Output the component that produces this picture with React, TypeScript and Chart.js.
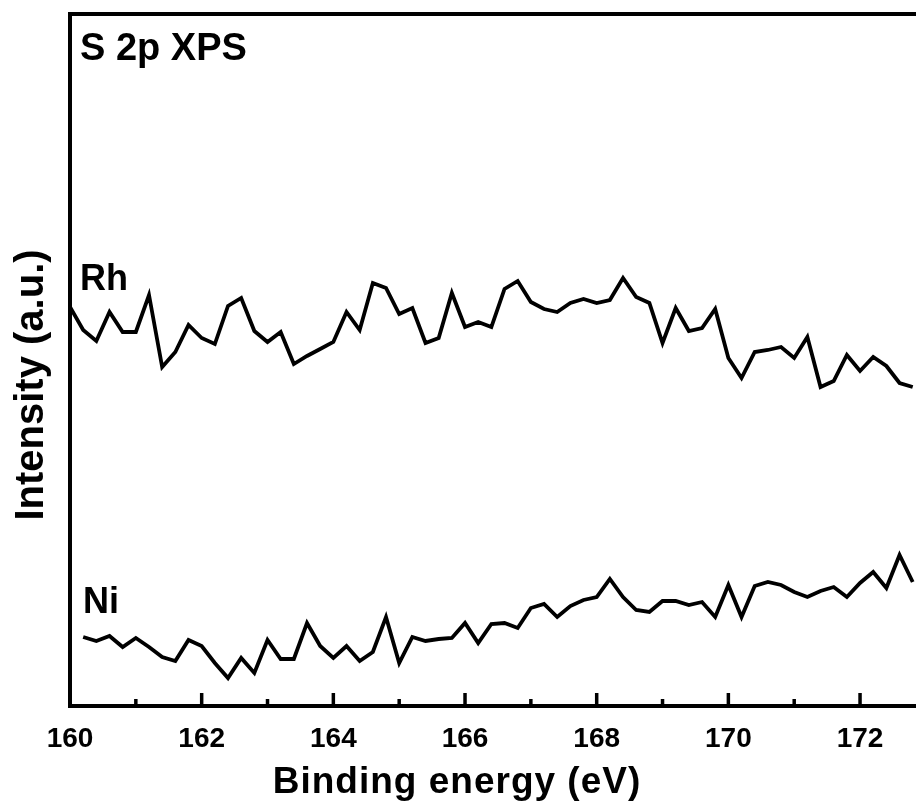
import React, { useEffect, useRef } from "react";
import { Chart, registerables } from "chart.js";

Chart.register(...registerables);

// Binding energy (eV), 0.2 eV steps
const energies = [
  160.0, 160.2, 160.4, 160.6, 160.8, 161.0, 161.2, 161.4, 161.6, 161.8,
  162.0, 162.2, 162.4, 162.6, 162.8, 163.0, 163.2, 163.4, 163.6, 163.8,
  164.0, 164.2, 164.4, 164.6, 164.8, 165.0, 165.2, 165.4, 165.6, 165.8,
  166.0, 166.2, 166.4, 166.6, 166.8, 167.0, 167.2, 167.4, 167.6, 167.8,
  168.0, 168.2, 168.4, 168.6, 168.8, 169.0, 169.2, 169.4, 169.6, 169.8,
  170.0, 170.2, 170.4, 170.6, 170.8, 171.0, 171.2, 171.4, 171.6, 171.8,
  172.0, 172.2, 172.4, 172.6, 172.8,
];

// Intensity (a.u.), Rh sample
const rhIntensity = [
  399, 376, 365, 394, 374, 374, 411, 339, 354, 381,
  368, 362, 400, 408, 375, 364, 374, 342, 350, 357,
  364, 394, 376, 423, 418, 392, 398, 363, 368, 413,
  379, 384, 379, 417, 425, 404, 397, 394, 403, 407,
  403, 406, 428, 409, 403, 363, 398, 375, 378, 397,
  348, 328, 354, 356, 359, 348, 369, 319, 325, 351,
  335, 349, 340, 323, 319,
];

// Intensity (a.u.), Ni sample (starts at 160.2 eV)
const niIntensity: (number | null)[] = [
  null, 69, 65, 70, 59, 68, 59, 49, 45, 66,
  60, 43, 28, 48, 33, 66, 47, 47, 83, 60,
  48, 60, 45, 54, 89, 43, 69, 65, 67, 68,
  83, 63, 82, 83, 78, 98, 102, 89, 100, 106,
  109, 127, 109, 96, 94, 105, 105, 101, 104, 89,
  121, 89, 120, 124, 121, 114, 109, 115, 119, 109,
  123, 134, 118, 151, 124,
];

const xMajorTicks = [160, 162, 164, 166, 168, 170, 172];
const xMinorTicks = [161, 163, 165, 167, 169, 171];
const xMin = 160;
const xMax = 172.85;
const yMin = 0;
const yMax = 692;

const FONT = "'Liberation Sans', Arial, Helvetica, sans-serif";

const decorPlugin = {
  id: "decor",
  afterDraw(chart: any) {
    const { ctx, chartArea, scales } = chart;
    const xs = scales.x;
    ctx.save();
    ctx.strokeStyle = "#000";
    ctx.lineCap = "butt";
    // top frame line
    ctx.lineWidth = 4;
    ctx.beginPath();
    ctx.moveTo(chartArea.left - 2, chartArea.top);
    ctx.lineTo(chartArea.right + 2, chartArea.top);
    ctx.stroke();
    // inward ticks
    ctx.lineWidth = 3.5;
    const bottom = chartArea.bottom;
    const drawTick = (v: number, len: number) => {
      const px = xs.getPixelForValue(v);
      ctx.beginPath();
      ctx.moveTo(px, bottom);
      ctx.lineTo(px, bottom - len);
      ctx.stroke();
    };
    xMajorTicks.forEach((v) => drawTick(v, 13));
    xMinorTicks.forEach((v) => drawTick(v, 7));

    // texts
    ctx.fillStyle = "#000";
    ctx.textBaseline = "alphabetic";
    ctx.textAlign = "left";
    ctx.font = `bold 38px ${FONT}`;
    ctx.fillText("S 2p XPS", chartArea.left + 10, chartArea.top + 46);
    ctx.font = `bold 36px ${FONT}`;
    ctx.fillText("Rh", chartArea.left + 10, 290);
    ctx.fillText("Ni", chartArea.left + 13, 613);

    // x title
    ctx.font = `bold 37px ${FONT}`;
    (ctx as any).letterSpacing = "1px";
    ctx.textAlign = "center";
    ctx.fillText("Binding energy (eV)", 457, 793);
    (ctx as any).letterSpacing = "0px";

    // y title
    ctx.save();
    ctx.translate(43, 385);
    ctx.rotate(-Math.PI / 2);
    ctx.font = `bold 40px ${FONT}`;
    ctx.textAlign = "center";
    ctx.fillText("Intensity (a.u.)", 0, 0);
    ctx.restore();

    ctx.restore();
  },
};

export default function App() {
  const canvasRef = useRef<HTMLCanvasElement | null>(null);

  useEffect(() => {
    const canvas = canvasRef.current;
    if (!canvas) return;
    const rhData = energies.map((e, i) => ({ x: e, y: rhIntensity[i] }));
    const niData = energies
      .map((e, i) => ({ x: e, y: niIntensity[i] }))
      .filter((p) => p.y !== null);

    const chart = new Chart(canvas, {
      type: "line",
      data: {
        datasets: [
          {
            label: "Rh",
            data: rhData as any,
            borderColor: "#000",
            borderWidth: 3.8,
            pointRadius: 0,
            tension: 0,
            fill: false,
            borderJoinStyle: "miter",
          },
          {
            label: "Ni",
            data: niData as any,
            borderColor: "#000",
            borderWidth: 3.8,
            pointRadius: 0,
            tension: 0,
            fill: false,
            borderJoinStyle: "miter",
          },
        ],
      },
      options: {
        responsive: false,
        animation: false,
        events: [],
        layout: { padding: { left: 0, top: 14, right: 0, bottom: 0 } },
        plugins: {
          legend: { display: false },
          tooltip: { enabled: false },
          title: { display: false },
        },
        scales: {
          x: {
            type: "linear",
            position: "bottom",
            min: xMin,
            max: xMax,
            afterBuildTicks: (scale: any) => {
              scale.ticks = xMajorTicks.map((v) => ({ value: v }));
            },
            afterFit: (scale: any) => {
              scale.height = 101;
            },
            grid: { display: false, drawTicks: false },
            border: { display: true, color: "#000", width: 4 },
            ticks: {
              color: "#000",
              padding: 16,
              maxRotation: 0,
              autoSkip: false,
              font: { family: FONT, size: 28, weight: "bold" },
              callback: (v: any) => String(v),
            },
          },
          y: {
            type: "linear",
            min: yMin,
            max: yMax,
            afterFit: (scale: any) => {
              scale.width = 70;
            },
            grid: { display: false, drawTicks: false },
            border: { display: true, color: "#000", width: 4 },
            ticks: { display: false },
          },
        },
      },
      plugins: [decorPlugin],
    } as any);

    return () => chart.destroy();
  }, []);

  return (
    <div style={{ position: "absolute", left: 0, top: 0, width: 916, height: 807, background: "#fff" }}>
      <canvas ref={canvasRef} width={916} height={807} style={{ display: "block" }} />
    </div>
  );
}
